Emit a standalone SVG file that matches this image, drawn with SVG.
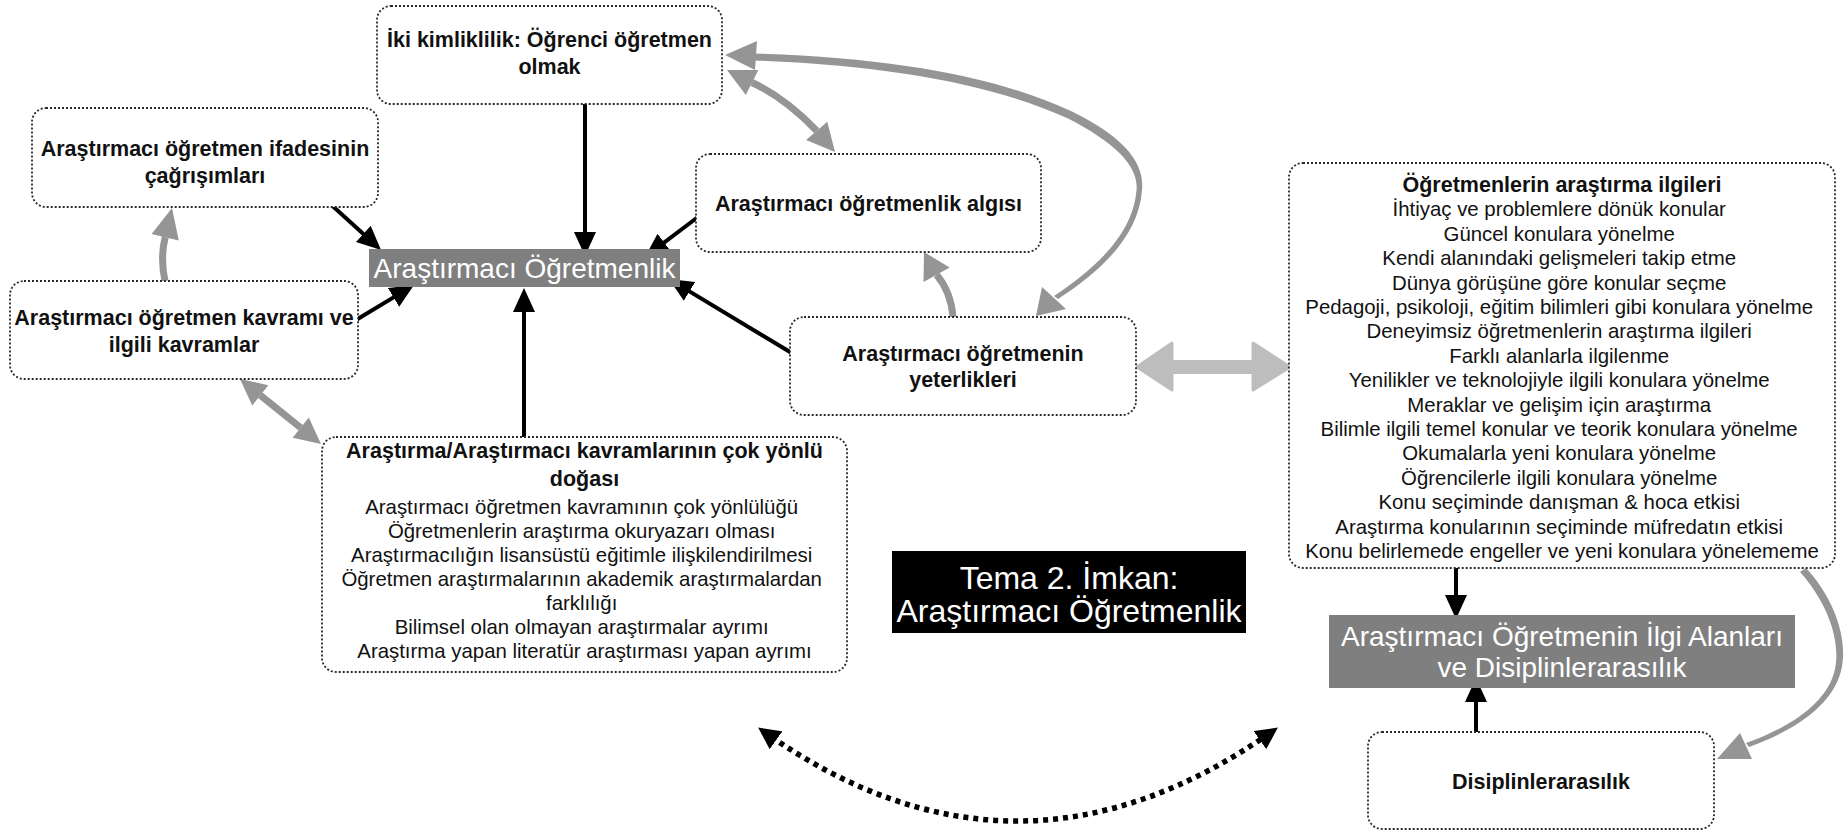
<svg xmlns="http://www.w3.org/2000/svg" width="1845" height="833" viewBox="0 0 1845 833">
  <style>
    .box { fill: #ffffff; stroke: #2a2a2a; stroke-width: 1.8; stroke-dasharray: 2 2; }
    .core { fill: #7f7f7f; }
    .t { font-family: "Liberation Sans", Arial, Helvetica, sans-serif; text-anchor: middle; fill: #111; }
    .b { font-weight: bold; font-size: 21.5px; }
    .r { font-size: 20.4px; }
    .w { fill: #ffffff; font-size: 28px; }
    .blk { fill: none; stroke: #000; stroke-width: 4; }
    .gry { fill: none; stroke: #959595; stroke-width: 7; }
    .gh { fill: #959595; }
  </style>
  <defs>
    <marker id="ah" markerUnits="userSpaceOnUse" markerWidth="24" markerHeight="22" refX="18" refY="11" orient="auto">
      <path d="M0,0 L24,11 L0,22 Z" fill="#000"/>
    </marker>
    <marker id="dh" markerUnits="userSpaceOnUse" markerWidth="22" markerHeight="22" refX="16" refY="11" orient="auto-start-reverse">
      <path d="M0,0 L22,11 L0,22 Z" fill="#000"/>
    </marker>
  </defs>

  <rect width="1845" height="833" fill="#ffffff"/>

  <!-- connectors -->
  <g id="connectors">
    <!-- black arrows into the core box -->
    <line class="blk" x1="585" y1="104" x2="585" y2="250" marker-end="url(#ah)"/>
    <line class="blk" x1="326" y1="200" x2="376.6" y2="246" marker-end="url(#ah)"/>
    <line class="blk" x1="356" y1="320" x2="408.9" y2="288.1" marker-end="url(#ah)"/>
    <line class="blk" x1="698" y1="217" x2="649.8" y2="253.4" marker-end="url(#ah)"/>
    <line class="blk" x1="800" y1="358" x2="674.1" y2="282.1" marker-end="url(#ah)"/>
    <line class="blk" x1="524" y1="440" x2="524" y2="294" marker-end="url(#ah)"/>
    <!-- black arrows into the interests box -->
    <line class="blk" x1="1456" y1="568" x2="1456" y2="613" marker-end="url(#ah)"/>
    <line class="blk" x1="1476" y1="732" x2="1476" y2="684" marker-end="url(#ah)"/>

    <!-- grey: concept -> connotations -->
    <path class="gry" d="M165,281 Q160,258 165.2,237.2"/>
    <polygon class="gh" points="172,208 178.8,240.4 151.6,234"/>

    <!-- grey: concept <-> multi-faceted nature -->
    <line class="gry" x1="260.3" y1="395.3" x2="300.7" y2="427.7"/>
    <polygon class="gh" points="240,379 252.2,405.4 268.4,385.2"/>
    <polygon class="gh" points="321,444 292.6,437.8 308.8,417.6"/>

    <!-- grey: dual identity <-> perception -->
    <path class="gry" d="M752,82.5 Q785,98 816.7,130.8"/>
    <polygon class="gh" points="727,70 745.8,95 758.4,70"/>
    <polygon class="gh" points="835,152 806.1,140 827.3,121.7"/>

    <!-- grey: competences -> perception -->
    <path class="gry" d="M953,317 Q951,292 936.6,274.8"/>
    <polygon class="gh" points="924,252 949.7,267.6 923.5,282"/>

    <!-- grey tapered loop: competences <-> dual identity -->
    <path class="gh" d="M755,53.5 C900,58 1000,78 1072,111.5 C1124,137 1145,163 1142,190 C1139,236 1100,272 1058,299 L1054,296 C1096,268 1133,234 1136.5,190 C1139,167 1116,143 1068,118.5 C996,86 898,66 755,60.5 Z"/>
    <polygon class="gh" points="725,55 757,41 755,70"/>
    <polygon class="gh" points="1036,316 1042,287 1066,309"/>

    <!-- light grey: competences <-> research interests -->
    <path d="M1137,367 L1172,343 L1172,361.5 L1253,361.5 L1253,343 L1290,367 L1253,390 L1253,372.5 L1172,372.5 L1172,390 Z" fill="#bdbdbd" stroke="#bdbdbd" stroke-width="3" stroke-linejoin="round"/>

    <!-- grey tapered curve: research interests -> interdisciplinarity -->
    <path class="gh" d="M1806,568 C1834,598 1849,640 1841,671 C1832,707 1791,732 1749,747 L1746,743 C1789,728 1828,703 1835,669 C1841,640 1827,602 1800,572 Z"/>
    <polygon class="gh" points="1717,759 1752,759 1740,733"/>

    <!-- dotted two-way arc between the two themes -->
    <path d="M763,731 Q1016,911 1273,731" fill="none" stroke="#000" stroke-width="5.5" stroke-dasharray="5 5" marker-start="url(#dh)" marker-end="url(#dh)"/>
  </g>

  <!-- nodes -->
  <g id="n-dual-identity">
    <rect class="box" x="377" y="6" width="345" height="98" rx="14"/>
    <text class="t b"><tspan x="549.5" y="47">İki kimliklilik: Öğrenci öğretmen</tspan><tspan x="549.5" y="74">olmak</tspan></text>
  </g>

  <g id="n-connotations">
    <rect class="box" x="32" y="108" width="346" height="99" rx="14"/>
    <text class="t b"><tspan x="205" y="156">Araştırmacı öğretmen ifadesinin</tspan><tspan x="205" y="183">çağrışımları</tspan></text>
  </g>

  <g id="n-concept">
    <rect class="box" x="10" y="281" width="348" height="98" rx="14"/>
    <text class="t b"><tspan x="184" y="325">Araştırmacı öğretmen kavramı ve</tspan><tspan x="184" y="352">ilgili kavramlar</tspan></text>
  </g>

  <g id="n-core">
    <rect class="core" x="369" y="249" width="311" height="38"/>
    <text class="t w" x="524.5" y="278">Araştırmacı Öğretmenlik</text>
  </g>

  <g id="n-perception">
    <rect class="box" x="696" y="154" width="345" height="98" rx="14"/>
    <text class="t b" x="868.5" y="211">Araştırmacı öğretmenlik algısı</text>
  </g>

  <g id="n-competences">
    <rect class="box" x="790" y="317" width="346" height="98" rx="14"/>
    <text class="t b"><tspan x="963" y="361">Araştırmacı öğretmenin</tspan><tspan x="963" y="387">yeterlikleri</tspan></text>
  </g>

  <g id="n-nature">
    <rect class="box" x="322" y="437" width="525" height="235" rx="14"/>
    <text class="t b"><tspan x="584.5" y="458">Araştırma/Araştırmacı kavramlarının çok yönlü</tspan><tspan x="584.5" y="486">doğası</tspan></text>
    <text class="t r">
      <tspan x="584.5" y="514">Araştırmacı öğretmen kavramının çok yönlülüğü</tspan>
      <tspan x="584.5" y="538">Öğretmenlerin araştırma okuryazarı olması</tspan>
      <tspan x="584.5" y="562">Araştırmacılığın lisansüstü eğitimle ilişkilendirilmesi</tspan>
      <tspan x="584.5" y="586">Öğretmen araştırmalarının akademik araştırmalardan</tspan>
      <tspan x="584.5" y="610">farklılığı</tspan>
      <tspan x="584.5" y="634">Bilimsel olan olmayan araştırmalar ayrımı</tspan>
      <tspan x="584.5" y="658">Araştırma yapan literatür araştırması yapan ayrımı</tspan>
    </text>
  </g>

  <g id="n-theme">
    <rect x="892" y="551" width="354" height="82" fill="#000"/>
    <text class="t" style="fill:#fff;font-size:32px"><tspan x="1069" y="589">Tema 2. İmkan:</tspan><tspan x="1069" y="622">Araştırmacı Öğretmenlik</tspan></text>
  </g>

  <g id="n-interests">
    <rect class="box" x="1289" y="163" width="546" height="405" rx="14"/>
    <text class="t b" x="1562" y="192">Öğretmenlerin araştırma ilgileri</text>
    <text class="t r">
      <tspan x="1562" y="216.4">İhtiyaç ve problemlere dönük konular</tspan>
      <tspan x="1562" y="240.8">Güncel konulara yönelme</tspan>
      <tspan x="1562" y="265.2">Kendi alanındaki gelişmeleri takip etme</tspan>
      <tspan x="1562" y="289.6">Dünya görüşüne göre konular seçme</tspan>
      <tspan x="1562" y="314">Pedagoji, psikoloji, eğitim bilimleri gibi konulara yönelme</tspan>
      <tspan x="1562" y="338.4">Deneyimsiz öğretmenlerin araştırma ilgileri</tspan>
      <tspan x="1562" y="362.8">Farklı alanlarla ilgilenme</tspan>
      <tspan x="1562" y="387.2">Yenilikler ve teknolojiyle ilgili konulara yönelme</tspan>
      <tspan x="1562" y="411.6">Meraklar ve gelişim için araştırma</tspan>
      <tspan x="1562" y="436">Bilimle ilgili temel konular ve teorik konulara yönelme</tspan>
      <tspan x="1562" y="460.4">Okumalarla yeni konulara yönelme</tspan>
      <tspan x="1562" y="484.8">Öğrencilerle ilgili konulara yönelme</tspan>
      <tspan x="1562" y="509.2">Konu seçiminde danışman &amp; hoca etkisi</tspan>
      <tspan x="1562" y="533.6">Araştırma konularının seçiminde müfredatın etkisi</tspan>
      <tspan x="1562" y="558">Konu belirlemede engeller ve yeni konulara yönelememe</tspan>
    </text>
  </g>

  <g id="n-interest-core">
    <rect class="core" x="1329" y="615" width="466" height="73"/>
    <text class="t w"><tspan x="1562" y="646">Araştırmacı Öğretmenin İlgi Alanları</tspan><tspan x="1562" y="677">ve Disiplinlerarasılık</tspan></text>
  </g>

  <g id="n-interdisciplinarity">
    <rect class="box" x="1368" y="732" width="346" height="97" rx="14"/>
    <text class="t b" x="1541" y="789">Disiplinlerarasılık</text>
  </g>
</svg>
